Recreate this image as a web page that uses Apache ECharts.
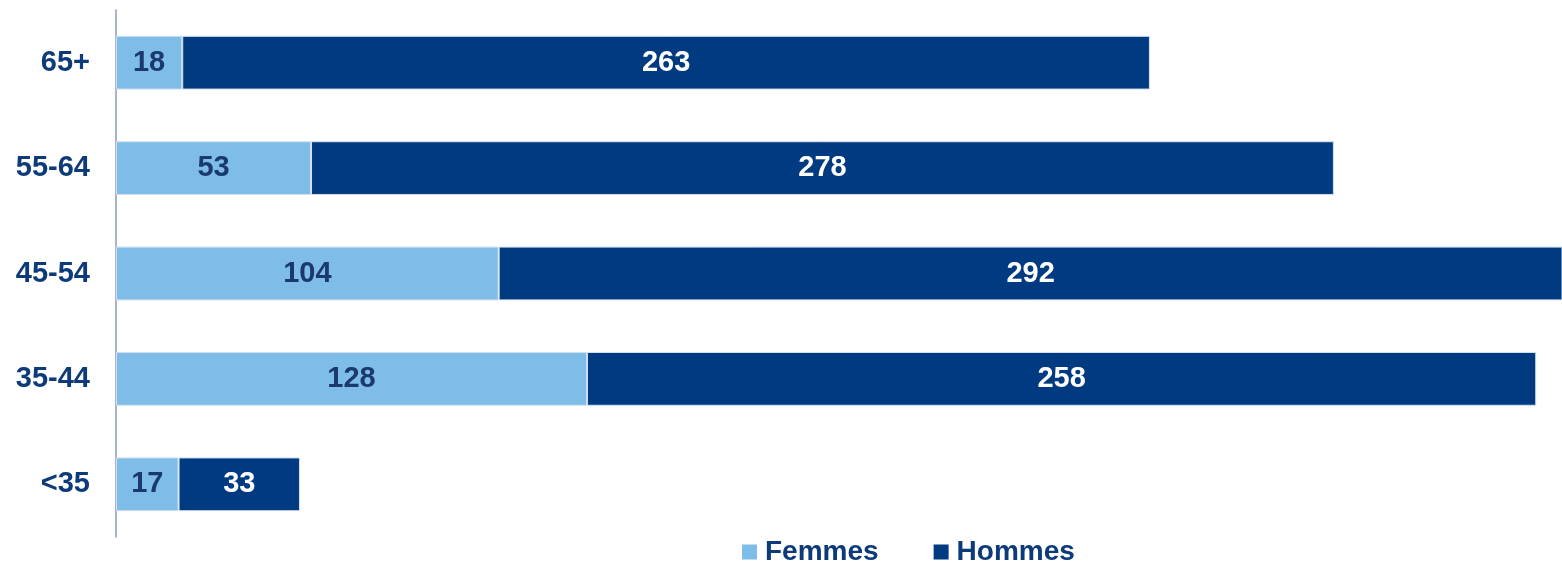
<!DOCTYPE html>
<html>
<head>
<meta charset="utf-8">
<script src="https://cdn.jsdelivr.net/npm/echarts@6/dist/echarts.min.js"></script>
<style>
  html, body { margin: 0; padding: 0; background: #fff; }
  #chart { width: 1562px; height: 561px; }
</style>
</head>
<body>
<div id="chart"></div>
<script>
// tranches d'age (bas -> haut)
const categories = ['<35', '35-44', '45-54', '55-64', '65+']
const femmes = [17, 128, 104, 53, 18]
const hommes = [33, 258, 292, 278, 263]

const chart = echarts.init(document.getElementById('chart'))

const labelFont = {
  fontFamily: '"Liberation Sans", Arial, sans-serif',
  fontWeight: 'bold',
  fontSize: 29
}

chart.setOption({
  animation: false,
  color: ['#7DBDE8', '#003A80'],
  grid: {
    left: 116,
    right: 0,
    top: 10,
    bottom: 24
  },
  legend: {
    data: ['Femmes', 'Hommes'],
    left: 737,
    top: 533,
    icon: 'rect',
    itemWidth: 15,
    itemHeight: 15,
    itemGap: 55,
    itemStyle: { borderWidth: 0 },
    textStyle: {
      color: '#0D3B7A',
      fontFamily: '"Liberation Sans", Arial, sans-serif',
      fontWeight: 'bold',
      fontSize: 28,
      padding: [0, 0, 0, 3]
    }
  },
  xAxis: {
    type: 'value',
    min: 0,
    max: 393,
    show: false,
    splitLine: { show: false }
  },
  yAxis: {
    type: 'category',
    data: categories,
    axisTick: { show: false },
    axisLine: {
      show: true,
      lineStyle: { color: '#8E9AB8', width: 1.5 }
    },
    axisLabel: {
      color: '#0D3B7A',
      margin: 26,
      ...labelFont
    }
  },
  series: [
    {
      name: 'Femmes',
      type: 'bar',
      stack: 'total',
      barCategoryGap: '49%',
      data: femmes,
      itemStyle: { borderColor: '#D4E0F0', borderWidth: 1 },
      label: {
        show: true,
        position: 'inside',
        color: '#1B3A6B',
        ...labelFont
      }
    },
    {
      name: 'Hommes',
      type: 'bar',
      stack: 'total',
      barCategoryGap: '49%',
      data: hommes,
      itemStyle: { borderColor: '#D4E0F0', borderWidth: 1 },
      label: {
        show: true,
        position: 'inside',
        color: '#ffffff',
        ...labelFont
      }
    }
  ]
})
</script>
</body>
</html>
